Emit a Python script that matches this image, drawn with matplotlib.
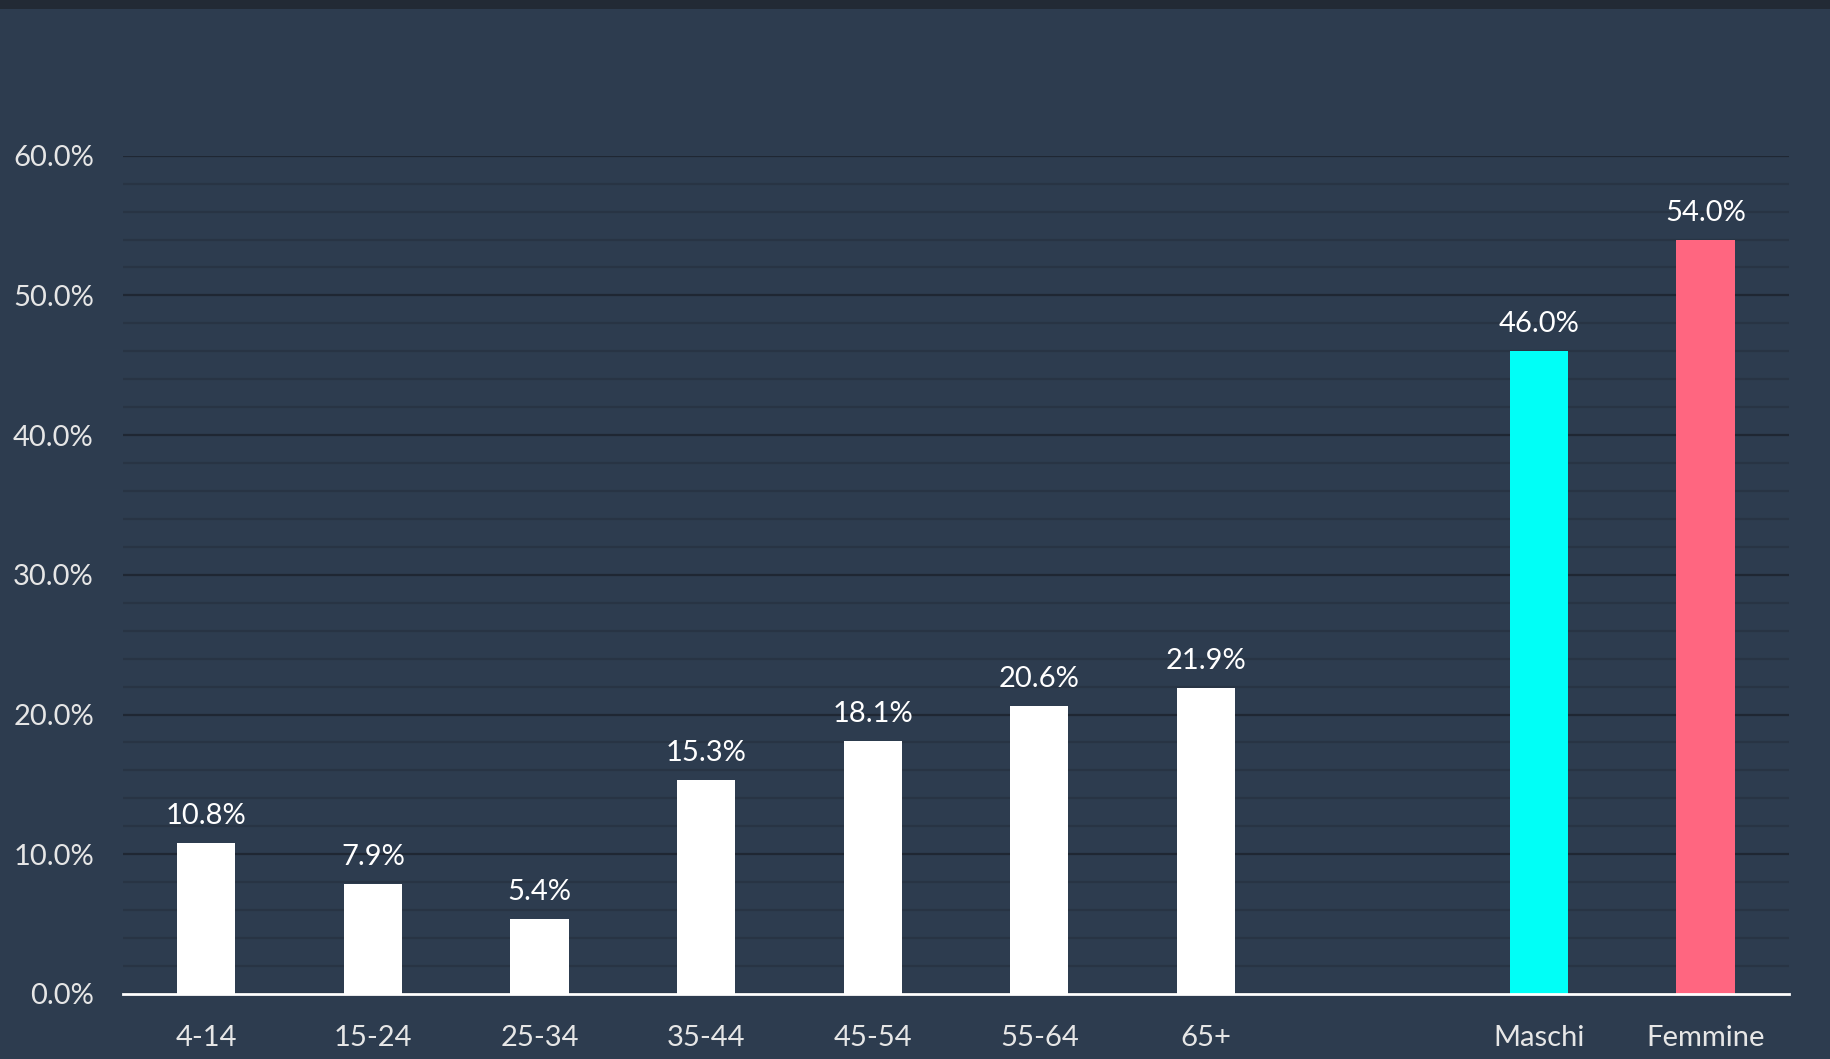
import numpy as np
import matplotlib.pyplot as plt
from matplotlib.patches import Rectangle
from matplotlib.ticker import MultipleLocator, FuncFormatter

# data
categories = ['4-14', '15-24', '25-34', '35-44', '45-54', '55-64', '65+', '', 'Maschi', 'Femmine']
values = [10.8, 7.9, 5.4, 15.3, 18.1, 20.6, 21.9, None, 46.0, 54.0]
bar_colors = ['white'] * 7 + [None, '#00fff7', '#ff6680']

bg = '#2d3c4f'
plt.rcParams['font.family'] = ['Lato', 'DejaVu Sans']

fig = plt.figure(figsize=(18.31, 10.59), dpi=100, facecolor=bg)
ax = fig.add_axes([0.0672, 0.0614, 0.977 - 0.0672, 0.853 - 0.0614])
ax.set_facecolor(bg)

# dark strip along the top edge
fig.patches.append(Rectangle((0, 1 - 9 / 1059), 1, 9 / 1059, transform=fig.transFigure,
                             facecolor='#222a35', edgecolor='none'))

x = np.arange(len(categories))
for i, v in enumerate(values):
    if v is None:
        continue
    ax.bar(x[i], v, width=0.35, color=bar_colors[i], zorder=3)
    ax.text(x[i], v + 1.0, '%.1f%%' % v, ha='center', va='bottom',
            color='white', fontsize=21, zorder=4)

ax.set_xlim(-0.5, len(categories) - 0.5)
ax.set_ylim(0, 60)
ax.set_xticks(x)
ax.set_xticklabels(categories)
ax.yaxis.set_major_locator(MultipleLocator(10))
ax.yaxis.set_minor_locator(MultipleLocator(2))
ax.yaxis.set_major_formatter(FuncFormatter(lambda v, p: '%.1f%%' % v))

ax.grid(axis='y', which='major', color='#1f2733', linewidth=1.6, zorder=1)
ax.grid(axis='y', which='minor', color='#283444', linewidth=1.6, zorder=1)
ax.tick_params(axis='both', which='both', length=0, colors='#e6e6e6', labelsize=21)
ax.tick_params(axis='y', pad=21)
ax.tick_params(axis='x', pad=22)

for s in ['top', 'right', 'left']:
    ax.spines[s].set_visible(False)
ax.spines['bottom'].set_color('white')
ax.spines['bottom'].set_linewidth(2)
ax.spines['bottom'].set_zorder(5)

fig.savefig('out.png', dpi=100, facecolor=bg)
